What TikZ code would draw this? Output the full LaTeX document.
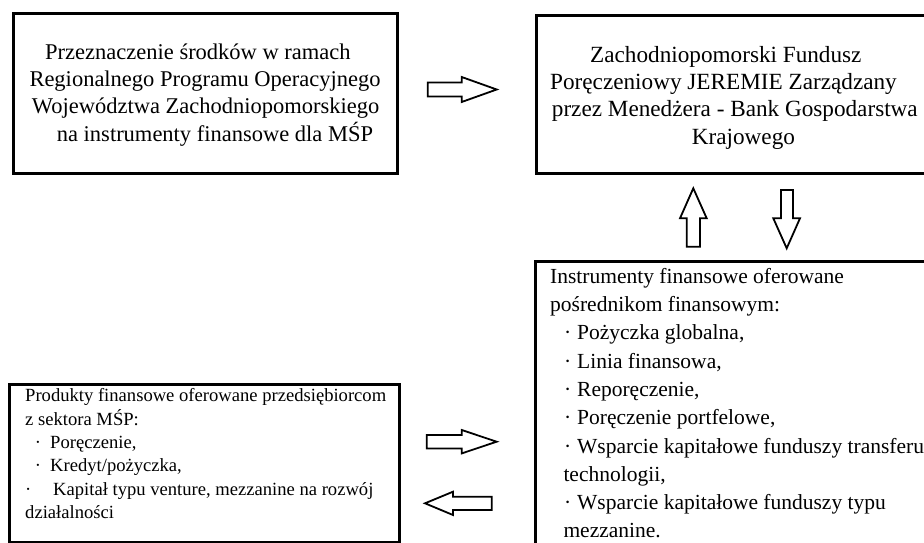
\documentclass[tikz,border=0pt]{standalone}
\usepackage{fontspec}
\setmainfont{Liberation Serif}
\begin{document}
\begin{tikzpicture}[x=1pt,y=-1pt,
  boxs/.style={draw=black, line width=2.6pt, inner sep=0pt, anchor=north west},
  txt/.style={inner sep=0pt, anchor=north west, align=left, text=black},
  barr/.style={draw=black, line width=1.8pt, fill=white, line join=miter}]
\useasboundingbox (0,0) rectangle (924,543);
\fill[white] (0,0) rectangle (924,543);
% boxes
\node[boxs, minimum width=384pt, minimum height=160pt] (b1) at (12,12) {};
\node[boxs, minimum width=410pt, minimum height=158.3pt] (b2) at (535,14) {};
\node[boxs, minimum width=410pt, minimum height=300pt] (b3) at (534,260) {};
\node[boxs, minimum width=389.7pt, minimum height=158pt] (b4) at (8.3,383) {};
% texts
\node[txt, font=\fontsize{22.5}{27.3}\selectfont] (t1) at (29.3,36.5)
 {\hspace*{15.7pt}\rule{0pt}{22.5pt}Przeznaczenie środków w ramach\\
  Regionalnego Programu Operacyjnego\\
  \hspace*{2.4pt}Województwa Zachodniopomorskiego\\
  \hspace*{27.4pt}na instrumenty finansowe dla MŚP};
\node[txt, font=\fontsize{23.2}{27.3}\selectfont] (t2) at (550,38.8)
 {\hspace*{40pt}\rule{0pt}{23.2pt}Zachodniopomorski Fundusz\\
  Poręczeniowy JEREMIE Zarządzany\\
  \hspace*{1.7pt}przez Menedżera - Bank Gospodarstwa\\
  \hspace*{141.7pt}Krajowego};
\node[txt, font=\fontsize{21.5}{28.3}\selectfont] (t3) at (550,261.5)
 {\rule{0pt}{21.5pt}Instrumenty finansowe oferowane\\
  pośrednikom finansowym:\\
  \hspace*{14pt}\makebox[13pt][l]{·}Pożyczka globalna,\\
  \hspace*{14pt}\makebox[13pt][l]{·}Linia finansowa,\\
  \hspace*{14pt}\makebox[13pt][l]{·}Reporęczenie,\\
  \hspace*{14pt}\makebox[13pt][l]{·}Poręczenie portfelowe,\\
  \hspace*{14pt}\makebox[13pt][l]{·}Wsparcie kapitałowe funduszy transferu\\
  \hspace*{13.3pt}technologii,\\
  \hspace*{14pt}\makebox[13pt][l]{·}Wsparcie kapitałowe funduszy typu\\
  \hspace*{13.3pt}mezzanine.};
\node[txt, font=\fontsize{18.6}{23.3}\selectfont] (t4) at (25,383.1)
 {\rule{0pt}{18.6pt}Produkty finansowe oferowane przedsiębiorcom\\
  z sektora MŚP:\\
  \hspace*{9.7pt}\makebox[15.3pt][l]{·}Poręczenie,\\
  \hspace*{9.7pt}\makebox[15.3pt][l]{·}Kredyt/pożyczka,\\
  \makebox[28pt][l]{·}Kapitał typu venture, mezzanine na rozwój\\
  działalności};
% block arrows
\draw[barr] (427.7,82.5) -- (461.7,82.5) -- (461.7,77) -- (496.7,89.5) -- (461.7,102) -- (461.7,96.5) -- (427.7,96.5) -- cycle;
\draw[barr] (426.7,435) -- (461.7,435) -- (461.7,430) -- (496.7,441.7) -- (461.7,453.4) -- (461.7,448.4) -- (426.7,448.4) -- cycle;
\draw[barr] (491.7,496.7) -- (453,496.7) -- (453,491.7) -- (425,503.3) -- (453,515) -- (453,510) -- (491.7,510) -- cycle;
\draw[barr] (686.7,246.7) -- (686.7,218.3) -- (680,218.3) -- (693.3,188.3) -- (706.7,218.3) -- (700,218.3) -- (700,246.7) -- cycle;
\draw[barr] (781,190) -- (781,218.3) -- (773.3,218.3) -- (786.7,248.3) -- (800,218.3) -- (793,218.3) -- (793,190) -- cycle;
\end{tikzpicture}
\end{document}
